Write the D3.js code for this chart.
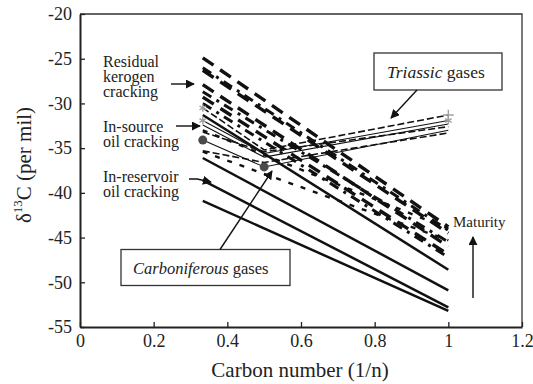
<!DOCTYPE html>
<html><head><meta charset="utf-8">
<script src="https://cdn.jsdelivr.net/npm/d3@7"></script>
<style>
body{margin:0;background:#fff;}
</style></head>
<body><svg id="c" width="533" height="384"></svg>
<script>
// ---- data ----
const gasX = [1/3, 1/2, 1];
const triassic = [
  [-30.5, -35.2, -31.3],
  [-31.9, -35.6, -31.9],
  [-32.4, -36.0, -32.3],
  [-33.2, -35.4, -32.6]
];
const triassicDash = [true, false, false, true];
const carboniferous = [
  [-34.1, -37.1, -33.0],
  [-35.3, -36.6, -33.3]
];
const carbDash = [false, true];
const trendX = [1/3, 1];
const residualKerogen = [[-24.9, -43.8], [-26.3, -44.5], [-27.9, -46.0], [-29.3, -46.9]];
const dashDot = [[-26.0, -44.2], [-28.7, -45.5], [-30.0, -47.2]];
const inSource = [[-33.0, -44.0], [-35.4, -45.3]];
const inReservoir = [[-31.3, -48.6], [-36.1, -50.9], [-38.6, -52.8], [-40.9, -53.2]];
const xTicks = [0, 0.2, 0.4, 0.6, 0.8, 1, 1.2];
const yTicks = [-20, -25, -30, -35, -40, -45, -50, -55];

// ---- chart ----
const FONT = "Liberation Serif, DejaVu Serif, Noto Serif, Times, serif";
const svg = d3.select("#c");
const L = 80, R = 522, T = 14, B = 327;
const x = d3.scaleLinear().domain([0, 1.2]).range([L, R]);
const y = d3.scaleLinear().domain([-55, -20]).range([B, T]);

const defs = svg.append("defs");
defs.append("marker").attr("id", "ah").attr("viewBox", "0 0 10 10")
  .attr("refX", 9).attr("refY", 5).attr("markerWidth", 9).attr("markerHeight", 9)
  .attr("markerUnits", "userSpaceOnUse").attr("orient", "auto")
  .append("path").attr("d", "M0,0L10,5L0,10z").attr("fill", "#111");

// frame
svg.append("path").attr("d", `M${L},${T}H${R}V${B}`).attr("fill", "none")
  .attr("stroke", "#333").attr("stroke-width", 1.3);

const gx = svg.append("g").attr("transform", `translate(0,${B})`)
  .call(d3.axisBottom(x).tickValues(xTicks).tickSizeInner(-5).tickSizeOuter(0)
    .tickPadding(7).tickFormat(d => d3.format("~g")(d)));
const gy = svg.append("g").attr("transform", `translate(${L},0)`)
  .call(d3.axisLeft(y).tickValues(yTicks).tickSizeInner(-5).tickSizeOuter(0)
    .tickPadding(8).tickFormat(d => String(d)));
[gx, gy].forEach(g => {
  g.attr("font-size", 18);
  g.select(".domain").attr("stroke", "#222").attr("stroke-width", 2);
  g.selectAll(".tick line").attr("stroke", "#222").attr("stroke-width", 1.3);
  g.selectAll("text").attr("fill", "#222");
});

// axis titles
svg.append("text").attr("x", 300).attr("y", 377).attr("text-anchor", "middle")
  .attr("font-size", 21).text("Carbon number (1/n)");
const yl = svg.append("text").attr("transform", "translate(31,165) rotate(-90)")
  .attr("text-anchor", "middle").attr("font-size", 21);
yl.append("tspan").text("δ");
yl.append("tspan").attr("font-size", 13).attr("dy", -9).text("13");
yl.append("tspan").attr("dy", 9).text("C (per mil)");

const line2 = d3.line().x(d => x(d[0])).y(d => y(d[1]));
const plotG = svg.append("g");
function trend(arr, xs, w, dash) {
  arr.forEach(v => {
    plotG.append("path").attr("d", line2(xs.map((xx, i) => [xx, v[i]])))
      .attr("fill", "none").attr("stroke", "#111").attr("stroke-width", w)
      .attr("stroke-dasharray", dash);
  });
}
trend(residualKerogen, trendX, 3.4, "13,8");
trend(dashDot, trendX, 3.0, "10,6,3,6");
trend(inSource, trendX, 2.4, "5,8");
trend(inReservoir, trendX, 2.5, null);

// gas lines
triassic.forEach((v, k) => {
  plotG.append("path").attr("d", line2(gasX.map((xx, i) => [xx, v[i]])))
    .attr("fill", "none").attr("stroke", "#111").attr("stroke-width", triassicDash[k] ? 1.6 : 1.1)
    .attr("stroke-dasharray", triassicDash[k] ? "7,3" : null);
});
carboniferous.forEach((v, k) => {
  plotG.append("path").attr("d", line2(gasX.map((xx, i) => [xx, v[i]])))
    .attr("fill", "none").attr("stroke", "#111").attr("stroke-width", carbDash[k] ? 1.6 : 1.1)
    .attr("stroke-dasharray", carbDash[k] ? "7,3" : null);
});
// markers
const ast = d3.symbol(d3.symbolAsterisk, 40);
const plus = d3.symbol(d3.symbolPlus, 40);
[triassic[0], triassic[1]].forEach(v => {
  v.forEach((val, i) => {
    if (i === 1) return;
    plotG.append("path").attr("d", i === 2 && v === triassic[0] ? plus() : ast())
      .attr("transform", `translate(${x(gasX[i])},${y(val)})`)
      .attr("fill", "none").attr("stroke", "#a0a0a0").attr("stroke-width", 1.4);
  });
});
[carboniferous[0]].forEach(v => {
  v.slice(0, 2).forEach((val, i) => {
    plotG.append("circle").attr("cx", x(gasX[i])).attr("cy", y(val)).attr("r", 4.5)
      .attr("fill", "#4a4a4a");
  });
});

// annotations
function label(lines, x0, y0, size) {
  lines.forEach((s, i) => svg.append("text").attr("font-size", size)
    .attr("x", x0).attr("y", y0 + i * 15).text(s));
}
label(["Residual", "kerogen", "cracking"], 103, 67, 16);
label(["In-source", "oil cracking"], 103, 132, 16);
label(["In-reservoir", "oil cracking"], 103, 182, 16);
function arrow(pts) {
  svg.append("path").attr("d", d3.line()(pts)).attr("fill", "none")
    .attr("stroke", "#111").attr("stroke-width", 1.4).attr("marker-end", "url(#ah)");
}
arrow([[171, 84], [194, 84]]);
arrow([[176, 126], [200, 126]]);
arrow([[189, 179], [197, 179], [211, 182]]);

// boxes
function box(x0, y0, w, h, it, rest, tx, ty, fs) {
  svg.append("rect").attr("x", x0).attr("y", y0).attr("width", w).attr("height", h)
    .attr("fill", "#fff").attr("stroke", "#333").attr("stroke-width", 1.3);
  const t = svg.append("text").attr("x", tx).attr("y", ty).attr("font-size", fs);
  t.append("tspan").attr("font-style", "italic").text(it);
  t.append("tspan").text(rest);
}
box(374, 53, 128, 37, "Triassic", " gases", 387, 77.5, 17.5);
box(121, 249.5, 169, 36, "Carboniferous", " gases", 133, 273.5, 16.5);
arrow([[417, 90], [391, 118]]);
arrow([[220, 249.5], [272, 171]]);

// maturity
svg.append("text").attr("x", 453).attr("y", 227).attr("font-size", 15).text("Maturity");
arrow([[473, 298], [473, 237]]);

// apply font directly to every text element
svg.selectAll("text").attr("font-family", null)
  .style("font-family", FONT).style("fill", "#222");
svg.selectAll("g").attr("font-family", null);
</script></body></html>
